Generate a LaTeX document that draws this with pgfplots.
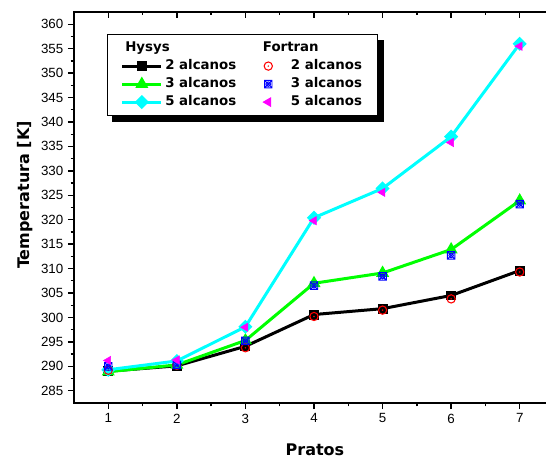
\documentclass[border=0pt]{standalone}
\usepackage{fontspec}
\setmainfont{Liberation Sans}
\newfontfamily\vb{DejaVu Sans}
\usepackage{pgfplots}
\pgfplotsset{compat=1.18}
\usetikzlibrary{backgrounds}

\definecolor{hgreen}{HTML}{00FF00}
\definecolor{hcyan}{HTML}{00FFFF}
\definecolor{fmag}{HTML}{FF00FF}

% open circle with a dot in the middle
\pgfdeclareplotmark{odot}{%
  \pgfpathcircle{\pgfpointorigin}{\pgfplotmarksize}\pgfusepathqstroke
  \pgfpathcircle{\pgfpointorigin}{0.2\pgfplotmarksize}\pgfusepathqfill}
% square with cross and circle
\pgfdeclareplotmark{sqxo}{%
  \pgfpathrectangle{\pgfpoint{-\pgfplotmarksize}{-\pgfplotmarksize}}{\pgfpoint{2\pgfplotmarksize}{2\pgfplotmarksize}}%
  \pgfpathmoveto{\pgfpoint{-\pgfplotmarksize}{-\pgfplotmarksize}}\pgfpathlineto{\pgfpoint{\pgfplotmarksize}{\pgfplotmarksize}}%
  \pgfpathmoveto{\pgfpoint{-\pgfplotmarksize}{\pgfplotmarksize}}\pgfpathlineto{\pgfpoint{\pgfplotmarksize}{-\pgfplotmarksize}}%
  \pgfpathcircle{\pgfpointorigin}{0.6\pgfplotmarksize}\pgfusepathqstroke}

\pgfplotsset{
  linelegend/.style={legend image code/.code={\draw[mark repeat=2,mark phase=2,##1] plot coordinates {(0pt,0pt) (14.5pt,0pt) (29pt,0pt)};}},
  marklegend/.style={legend image code/.code={\path[draw=none,fill=none] (0pt,0pt) -- (22pt,0pt); \draw[##1] plot coordinates {(7pt,0pt)};}},
  hyline/.style={line width=2.25pt, mark options={solid}},
}

\begin{document}
\begin{tikzpicture}
\begin{axis}[
  scale only axis, width=360pt, height=293.25pt,
  xmin=0.5, xmax=7.5, ymin=282.5, ymax=362.5,
  xtick={1,...,7}, ytick={285,290,...,360},
  minor x tick num=1, minor y tick num=1,
  tick pos=left, tick align=outside,
  major tick length=4.5pt, minor tick length=2.5pt,
  every tick/.style={black, line width=1pt},
  axis line style={line width=1.2pt},
  /pgf/number format/assume math mode=true,
  ticklabel style={font=\fontsize{10}{12}\selectfont},
  xlabel={Pratos}, ylabel={Temperatura [K]},
  every axis x label/.style={at={(rel axis cs:0.502,0)}, yshift=-35.25pt, anchor=center,
    font=\vb\bfseries\fontsize{12}{14}\selectfont},
  every axis y label/.style={at={(rel axis cs:0,0.532)}, xshift=-36.75pt, rotate=90, anchor=center,
    font=\vb\bfseries\fontsize{12}{14}\selectfont},
  legend columns=2,
  legend cell align=left,
  legend style={at={(rel axis cs:0.069,0.944)}, anchor=north west, name=leg,
    draw=black, line width=0.8pt, fill=white,
    font=\vb\bfseries\fontsize{10}{12}\selectfont,
    inner xsep=10pt, inner ysep=3.5pt, row sep=0pt,
    nodes={inner ysep=2pt, text height=7.5pt, text depth=2pt},
    /tikz/every even column/.append style={column sep=15pt}},
]
\coordinate (O) at (rel axis cs:0,0);

\addlegendimage{empty legend}\addlegendentry{\hspace*{-30pt}Hysys}
\addlegendimage{empty legend}\addlegendentry{\hspace*{-21pt}Fortran}
\addlegendimage{black, hyline, mark=square*, mark size=2.6pt, linelegend}\addlegendentry{2 alcanos}
\addlegendimage{red, line width=0.8pt, mark=odot, mark size=3.1pt, marklegend}\addlegendentry{2 alcanos}
\addlegendimage{hgreen, hyline, mark=triangle*, mark size=3.4pt, linelegend}\addlegendentry{3 alcanos}
\addlegendimage{blue, line width=0.7pt, mark=sqxo, mark size=2.8pt, marklegend}\addlegendentry{3 alcanos}
\addlegendimage{hcyan, hyline, mark=square*, mark size=2.6pt, mark options={rotate=45}, linelegend}\addlegendentry{5 alcanos}
\addlegendimage{fmag, mark=triangle*, mark size=3.6pt, mark options={rotate=90}, marklegend}\addlegendentry{5 alcanos}

% Hysys
\addplot[forget plot, black, hyline, mark=square*, mark size=2.6pt] coordinates {
  (1,289.0) (2,290.1) (3,294.1) (4,300.6) (5,301.8) (6,304.5) (7,309.6)};
\addplot[forget plot, hgreen, hyline, mark=triangle*, mark size=3.4pt] coordinates {
  (1,288.9) (2,290.3) (3,295.3) (4,307.0) (5,309.1) (6,313.9) (7,323.9)};
\addplot[forget plot, hcyan, hyline, mark=square*, mark size=2.6pt, mark options={rotate=45}] coordinates {
  (1,289.3) (2,291.1) (3,298.1) (4,320.4) (5,326.4) (6,337.0) (7,356.0)};
% Fortran
\addplot[forget plot, only marks, red, line width=0.8pt, mark=odot, mark size=3.1pt] coordinates {
  (1,289.2) (2,290.2) (3,293.8) (4,300.2) (5,301.5) (6,303.8) (7,309.3)};
\addplot[forget plot, only marks, blue, line width=0.7pt, mark=sqxo, mark size=2.8pt] coordinates {
  (1,290.0) (2,290.3) (3,295.2) (4,306.5) (5,308.4) (6,312.7) (7,323.2)};
\addplot[forget plot, only marks, fmag, mark=triangle*, mark size=3.6pt, mark options={rotate=90}] coordinates {
  (1,291.2) (2,291.3) (3,298.0) (4,319.8) (5,325.6) (6,335.8) (7,355.5)};
\end{axis}

% top axis with inward ticks
\begin{axis}[
  scale only axis, width=360pt, height=293.25pt,
  xmin=0.5, xmax=7.5, ymin=282.5, ymax=362.5,
  axis x line*=top, axis y line=none,
  xtick={1,...,7}, minor x tick num=1, xticklabels={},
  tick align=inside,
  major tick length=4.5pt, minor tick length=2.5pt,
  every tick/.style={black, line width=1pt},
  axis line style={line width=1.2pt, -},
]
\end{axis}

% legend shadow
\begin{scope}[on background layer]
\fill[black] ([shift={(4pt,-4.5pt)}]leg.south west) rectangle ([shift={(4pt,-4.5pt)}]leg.north east);
\end{scope}

\pgfresetboundingbox
\path[use as bounding box] ([shift={(-55.5pt,-42.75pt)}]O) rectangle ([shift={(354pt,302.25pt)}]O);
\end{tikzpicture}
\end{document}
